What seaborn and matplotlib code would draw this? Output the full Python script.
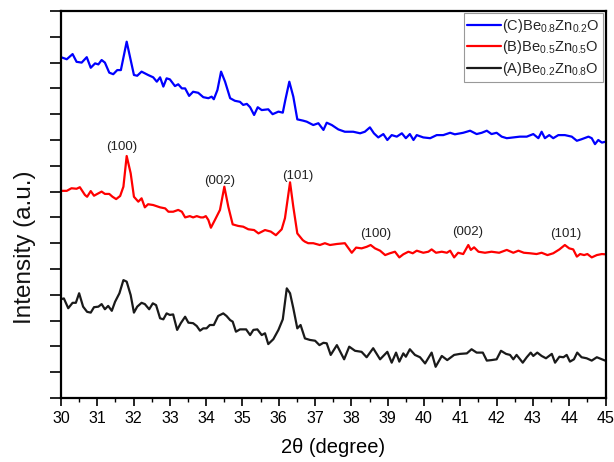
import matplotlib
matplotlib.use("Agg")
import matplotlib.pyplot as plt
import numpy as np
import pandas as pd
import seaborn as sns
from matplotlib.ticker import MultipleLocator, NullFormatter

# ---------------- data ----------------
series_labels = [r"(C)Be$_{0.8}$Zn$_{0.2}$O",
                 r"(B)Be$_{0.5}$Zn$_{0.5}$O",
                 r"(A)Be$_{0.2}$Zn$_{0.8}$O"]
series_colors = ["#0000ff", "#ff0000", "#1a1a1a"]

two_theta_c = [30.00, 30.16, 30.32, 30.43, 30.57, 30.71, 30.82, 30.94, 31.03, 31.12, 31.21, 31.33, 31.44, 31.55,
               31.65, 31.81, 32.01, 32.10, 32.22, 32.40, 32.54, 32.64, 32.73, 32.82, 32.91, 33.00, 33.14, 33.23,
               33.33, 33.42, 33.53, 33.64, 33.78, 33.92, 34.06, 34.15, 34.21, 34.31, 34.41, 34.52, 34.66, 34.79,
               34.93, 35.02, 35.12, 35.21, 35.32, 35.42, 35.53, 35.71, 35.83, 35.99, 36.11, 36.18, 36.29, 36.40,
               36.51, 36.67, 36.77, 36.95, 37.09, 37.23, 37.32, 37.46, 37.64, 37.82, 38.05, 38.24, 38.37, 38.51,
               38.62, 38.74, 38.88, 38.99, 39.11, 39.25, 39.39, 39.50, 39.61, 39.71, 39.80, 39.98, 40.17, 40.35,
               40.53, 40.72, 40.85, 41.08, 41.27, 41.45, 41.59, 41.73, 41.86, 42.00, 42.14, 42.28, 42.46, 42.64,
               42.83, 43.01, 43.15, 43.24, 43.33, 43.45, 43.56, 43.70, 43.88, 44.07, 44.21, 44.34, 44.53, 44.62,
               44.71, 44.80, 44.90, 44.99]
intensity_c = [13.21, 13.13, 13.33, 13.03, 13.00, 13.21, 12.80, 12.97, 12.93, 13.10, 13.00, 12.61, 12.55, 12.71,
               12.71, 13.81, 12.52, 12.49, 12.65, 12.52, 12.43, 12.26, 12.43, 12.07, 12.39, 12.35, 12.09, 12.16,
               12.00, 12.00, 11.71, 11.87, 11.83, 11.66, 11.62, 11.68, 11.58, 11.94, 12.65, 12.26, 11.62, 11.52,
               11.48, 11.36, 11.40, 11.27, 10.97, 11.27, 11.16, 11.19, 11.00, 11.10, 11.06, 11.55, 12.26, 11.68,
               10.80, 10.75, 10.71, 10.58, 10.65, 10.39, 10.67, 10.58, 10.41, 10.32, 10.32, 10.26, 10.32, 10.49,
               10.26, 10.10, 10.23, 10.00, 10.19, 10.13, 10.26, 10.07, 10.23, 10.00, 10.19, 10.10, 10.07, 10.19,
               10.19, 10.28, 10.22, 10.28, 10.36, 10.23, 10.28, 10.36, 10.23, 10.28, 10.13, 10.07, 10.10, 10.13,
               10.13, 10.23, 10.07, 10.32, 10.07, 10.19, 10.07, 10.19, 10.19, 10.13, 9.97, 10.03, 10.13, 10.07,
               9.84, 10.00, 9.90, 9.93]

two_theta_b = [30.00, 30.16, 30.29, 30.43, 30.52, 30.66, 30.72, 30.82, 30.91, 31.00, 31.12, 31.21, 31.33, 31.42,
               31.52, 31.63, 31.72, 31.81, 31.92, 32.01, 32.13, 32.22, 32.31, 32.40, 32.54, 32.73, 32.87, 32.96,
               33.09, 33.23, 33.33, 33.42, 33.55, 33.64, 33.74, 33.85, 33.92, 33.99, 34.06, 34.13, 34.24, 34.38,
               34.50, 34.61, 34.73, 34.88, 35.02, 35.16, 35.32, 35.44, 35.62, 35.78, 35.92, 36.08, 36.17, 36.31,
               36.40, 36.51, 36.66, 36.72, 36.81, 36.95, 37.13, 37.27, 37.41, 37.60, 37.82, 38.01, 38.13, 38.28,
               38.42, 38.53, 38.65, 38.79, 38.93, 39.06, 39.20, 39.32, 39.43, 39.57, 39.69, 39.80, 39.98, 40.12,
               40.21, 40.33, 40.49, 40.63, 40.72, 40.83, 40.94, 41.08, 41.22, 41.29, 41.38, 41.50, 41.68, 41.86,
               42.07, 42.28, 42.46, 42.60, 42.75, 42.92, 43.10, 43.24, 43.40, 43.56, 43.73, 43.88, 44.00, 44.11,
               44.21, 44.30, 44.41, 44.50, 44.62, 44.76, 44.90, 44.99]
intensity_b = [8.03, 8.03, 8.13, 8.11, 8.17, 7.87, 7.80, 8.02, 7.84, 7.91, 8.00, 7.91, 7.91, 7.80,
               7.71, 7.83, 8.19, 9.38, 8.71, 7.80, 7.61, 7.74, 7.39, 7.51, 7.48, 7.39, 7.35, 7.22,
               7.22, 7.29, 7.22, 7.00, 7.05, 7.00, 7.05, 7.00, 7.00, 7.05, 6.90, 6.60, 6.90, 7.29,
               8.19, 7.41, 6.73, 6.67, 6.64, 6.54, 6.51, 6.38, 6.51, 6.45, 6.31, 6.54, 6.97, 8.36,
               7.41, 6.38, 6.12, 6.06, 6.00, 6.00, 5.93, 6.00, 5.93, 5.97, 6.00, 5.63, 5.83, 5.80,
               5.86, 5.93, 5.80, 5.71, 5.54, 5.61, 5.67, 5.45, 5.57, 5.67, 5.61, 5.71, 5.63, 5.67,
               5.76, 5.63, 5.67, 5.63, 5.71, 5.45, 5.63, 5.58, 5.93, 5.74, 5.84, 5.67, 5.63, 5.67,
               5.63, 5.74, 5.63, 5.71, 5.63, 5.61, 5.58, 5.63, 5.54, 5.61, 5.76, 5.93, 5.80, 5.76,
               5.48, 5.58, 5.54, 5.58, 5.45, 5.54, 5.58, 5.57]

two_theta_a = [30.00, 30.08, 30.20, 30.32, 30.41, 30.50, 30.61, 30.72, 30.82, 30.91, 31.03, 31.12, 31.21, 31.30,
               31.40, 31.49, 31.61, 31.72, 31.81, 31.92, 32.01, 32.10, 32.22, 32.31, 32.43, 32.53, 32.62, 32.73,
               32.82, 32.91, 33.00, 33.09, 33.20, 33.30, 33.42, 33.51, 33.64, 33.74, 33.83, 33.92, 34.01, 34.10,
               34.21, 34.33, 34.47, 34.56, 34.66, 34.73, 34.82, 34.93, 35.10, 35.21, 35.30, 35.41, 35.53, 35.62,
               35.71, 35.85, 35.99, 36.11, 36.22, 36.31, 36.40, 36.51, 36.60, 36.72, 36.86, 37.00, 37.12, 37.23,
               37.32, 37.43, 37.60, 37.80, 37.94, 38.10, 38.28, 38.42, 38.60, 38.79, 38.99, 39.11, 39.23, 39.32,
               39.43, 39.50, 39.61, 39.75, 39.89, 40.03, 40.21, 40.32, 40.49, 40.64, 40.83, 40.99, 41.18, 41.31,
               41.45, 41.62, 41.73, 41.86, 42.00, 42.12, 42.26, 42.37, 42.46, 42.55, 42.72, 42.83, 42.94, 43.01,
               43.12, 43.24, 43.36, 43.52, 43.61, 43.73, 43.84, 43.93, 44.02, 44.13, 44.22, 44.34, 44.48, 44.62,
               44.76, 44.90, 44.99]
intensity_a = [3.83, 3.86, 3.48, 3.69, 3.69, 4.06, 3.54, 3.34, 3.31, 3.52, 3.54, 3.64, 3.44, 3.57,
               3.38, 3.73, 4.06, 4.57, 4.51, 3.99, 3.31, 3.54, 3.69, 3.64, 3.44, 3.67, 3.60, 3.09,
               3.05, 3.28, 3.22, 3.24, 2.64, 2.90, 3.15, 2.92, 2.90, 2.79, 2.61, 2.70, 2.70, 2.83,
               2.83, 3.18, 3.28, 3.18, 3.02, 2.96, 2.57, 2.66, 2.66, 2.44, 2.64, 2.66, 2.44, 2.51,
               2.09, 2.28, 2.64, 3.05, 4.25, 4.06, 3.48, 2.70, 2.83, 2.31, 2.25, 2.22, 2.05, 2.14,
               2.12, 1.67, 2.05, 1.50, 1.99, 1.83, 1.79, 1.58, 1.93, 1.50, 1.79, 1.37, 1.76, 1.41,
               1.73, 1.60, 1.89, 1.67, 1.58, 1.34, 1.76, 1.21, 1.63, 1.47, 1.67, 1.71, 1.73, 1.89,
               1.76, 1.76, 1.45, 1.47, 1.50, 1.83, 1.71, 1.67, 1.50, 1.67, 1.37, 1.58, 1.76, 1.63,
               1.76, 1.63, 1.54, 1.71, 1.37, 1.60, 1.58, 1.67, 1.41, 1.50, 1.76, 1.58, 1.54, 1.45,
               1.58, 1.50, 1.45]

peak_labels = ["(100)", "(002)", "(101)", "(100)", "(002)", "(101)"]
peak_label_x = [31.68, 34.36, 36.51, 38.68, 41.20, 43.91]
peak_label_y = [9.72, 8.42, 8.62, 6.36, 6.45, 6.34]

x_ticks = list(range(30, 46))

# ---------------- plotting ----------------
sns.set_theme(style="ticks")
plt.rcParams['font.family'] = ['Liberation Sans', 'DejaVu Sans']
plt.rcParams['mathtext.fontset'] = 'custom'
plt.rcParams['mathtext.rm'] = 'Liberation Sans'
plt.rcParams['mathtext.it'] = 'Liberation Sans:italic'
plt.rcParams['mathtext.bf'] = 'Liberation Sans:bold'

frames = []
for lab, xs, ys in zip(series_labels,
                       [two_theta_c, two_theta_b, two_theta_a],
                       [intensity_c, intensity_b, intensity_a]):
    frames.append(pd.DataFrame({"two_theta": xs, "intensity": ys, "sample": lab}))
df = pd.concat(frames, ignore_index=True)

fig = plt.figure(figsize=(6.14, 4.62), dpi=100)
ax = fig.add_axes([0.0993, 0.1385, 0.8869, 0.8377])

sns.lineplot(data=df, x="two_theta", y="intensity", hue="sample",
             hue_order=series_labels, palette=series_colors,
             sort=False, estimator=None, linewidth=1.6, ax=ax)

for t, xx, yy in zip(peak_labels, peak_label_x, peak_label_y):
    ax.text(xx, yy, t, ha="center", va="center", fontsize=9.5, color="#222222")

ax.set_xlim(30, 45)
ax.set_ylim(0, 15)
ax.set_xticks(x_ticks)
ax.xaxis.set_minor_locator(MultipleLocator(0.5))
ax.set_yticks(range(0, 16))
ax.yaxis.set_major_formatter(NullFormatter())
ax.tick_params(axis="x", which="major", direction="out", length=6, width=1.2,
               labelsize=11.5, color="black", labelcolor="black", pad=3)
ax.tick_params(axis="x", which="minor", direction="out", length=3, width=1.0, color="black")
ax.tick_params(axis="y", which="major", direction="out", length=8, width=1.2, color="black")

for s in ax.spines.values():
    s.set_visible(True)
    s.set_color("black")
    s.set_linewidth(1.6)

ax.set_xlabel("2θ (degree)", fontsize=14.5, color="black", labelpad=9)
ax.set_ylabel("Intensity (a.u.)", fontsize=17.5, color="#111111")
ax.yaxis.set_label_coords(-0.045, 0.39)

handles, labels = ax.get_legend_handles_labels()
leg = ax.legend(handles, labels, loc="upper right", fontsize=10.5, frameon=True,
                fancybox=False, edgecolor="#999999", framealpha=1,
                handlelength=2.3, handletextpad=0.1, labelspacing=0.25,
                borderpad=0.25, borderaxespad=0.15)
leg.get_frame().set_linewidth(0.8)

fig.savefig("out.png", dpi=100)
